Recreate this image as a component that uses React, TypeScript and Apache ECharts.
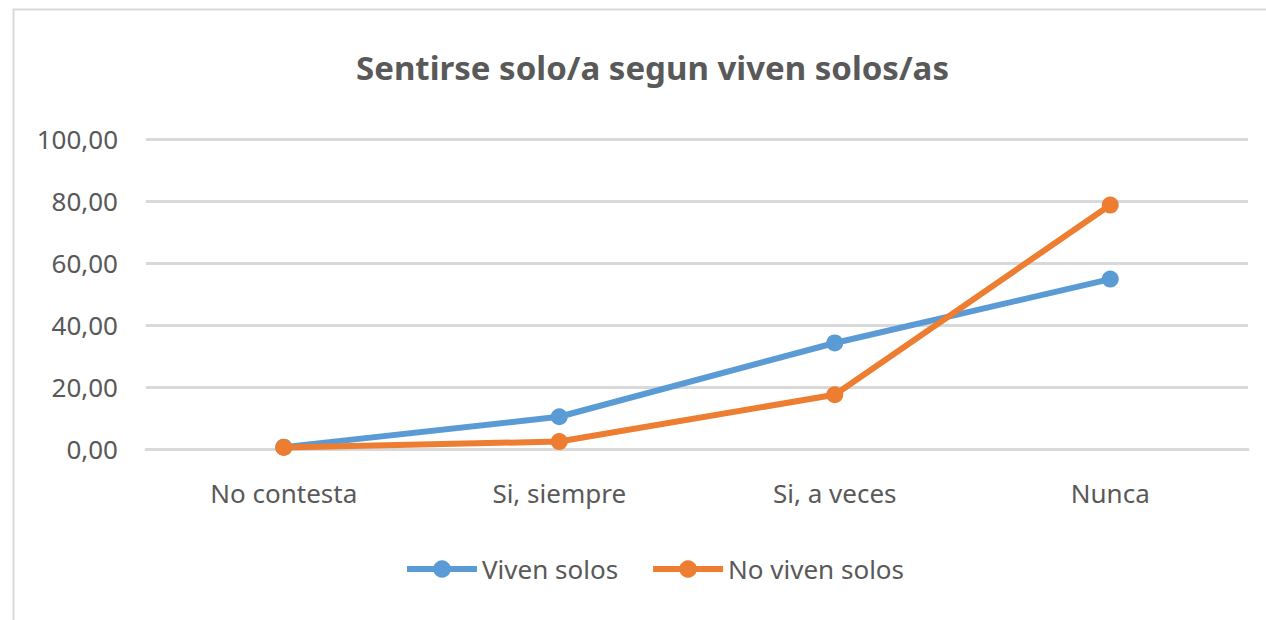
import React, { useEffect, useRef } from "react";
import * as echarts from "echarts";

const categories = ["No contesta", "Si, siempre", "Si, a veces", "Nunca"];
const vivenSolos = [0.6, 10.4, 34.2, 54.8];
const noVivenSolos = [0.5, 2.4, 17.5, 78.7];
const titleText = "Sentirse solo/a segun viven solos/as";

const FONT = "'Noto Sans', sans-serif";
const TXT = "#595959";

export default function App() {
  const ref = useRef<HTMLDivElement>(null);
  useEffect(() => {
    if (!ref.current) return;
    const chart = echarts.init(ref.current, undefined, { renderer: "svg" });
    chart.setOption({
      animation: false,
      backgroundColor: "#ffffff",
      textStyle: { fontFamily: FONT },
      title: {
        text: titleText,
        left: 351,
        top: 46,
        textStyle: { fontFamily: FONT, fontSize: 33, fontWeight: "bold", color: TXT },
      },
      graphic: [
        {
          type: "rect",
          shape: { x: 13.5, y: 9.5, width: 1400, height: 800 },
          style: { fill: "none", stroke: "#d9d9d9", lineWidth: 2 },
          silent: true,
        },
      ],
      grid: { left: 146, right: 18, top: 139, bottom: 171, containLabel: false },
      legend: {
        left: 399,
        top: 551,
        itemWidth: 70,
        itemHeight: 22,
        itemGap: 32,
        lineStyle: { width: 6 },
        textStyle: { fontFamily: FONT, fontSize: 26, color: TXT },
        data: ["Viven solos", "No viven solos"],
      },
      xAxis: {
        type: "category",
        data: categories,
        boundaryGap: true,
        axisLine: { lineStyle: { color: "#d9d9d9", width: 3 } },
        axisTick: { show: false },
        axisLabel: { fontFamily: FONT, fontSize: 26, color: TXT, margin: 31 },
      },
      yAxis: {
        type: "value",
        min: 0,
        max: 100,
        interval: 20,
        axisLine: { show: false },
        axisTick: { show: false },
        splitLine: { lineStyle: { color: "#d9d9d9", width: 3 } },
        axisLabel: {
          fontFamily: FONT,
          fontSize: 26,
          color: TXT,
          margin: 28,
          formatter: (v: number) => v.toFixed(2).replace(".", ","),
        },
      },
      series: [
        {
          name: "Viven solos",
          type: "line",
          data: vivenSolos,
          color: "#5b9bd5",
          symbol: "circle",
          symbolSize: 17,
          lineStyle: { width: 6, color: "#5b9bd5" },
          itemStyle: { color: "#5b9bd5" },
        },
        {
          name: "No viven solos",
          type: "line",
          data: noVivenSolos,
          color: "#ed7d31",
          symbol: "circle",
          symbolSize: 17,
          lineStyle: { width: 6, color: "#ed7d31" },
          itemStyle: { color: "#ed7d31" },
        },
      ],
    });
    return () => chart.dispose();
  }, []);
  return (
    <div
      ref={ref}
      style={{ position: "fixed", left: 0, top: 0, width: 1266, height: 620 }}
    />
  );
}
